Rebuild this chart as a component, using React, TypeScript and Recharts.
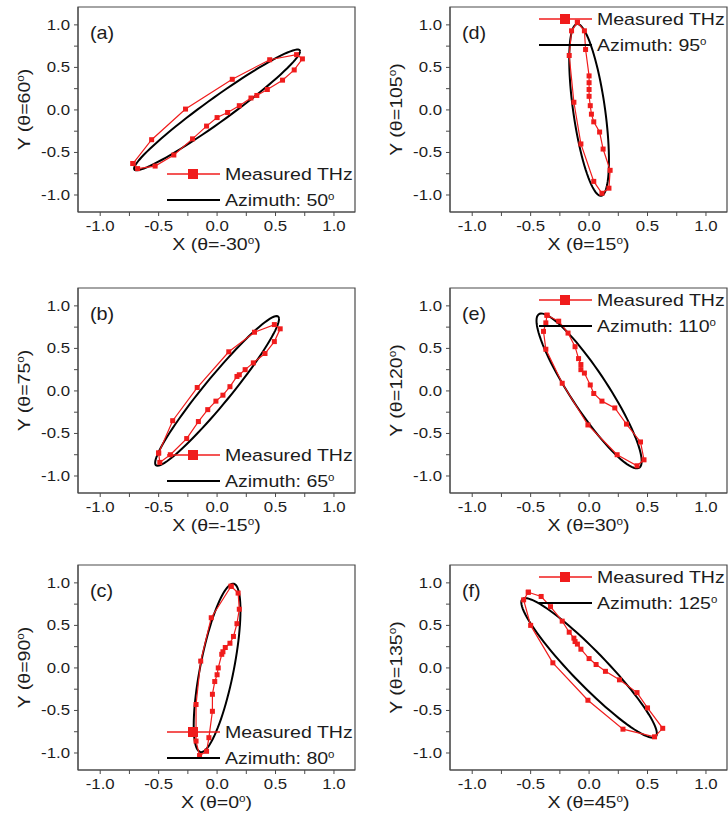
import React from "react";
import { ScatterChart, Scatter, XAxis, YAxis, ReferenceArea } from "recharts";

const measuredA = [
  [-0.72, -0.63], [-0.56, -0.35], [-0.27, 0.01], [0.13, 0.36], [0.45, 0.59], [0.68, 0.65],
  [0.73, 0.6], [0.66, 0.47], [0.56, 0.35], [0.43, 0.24], [0.34, 0.17], [0.29, 0.14],
  [0.19, 0.05], [0.09, -0.03], [0.0, -0.09], [-0.09, -0.19], [-0.21, -0.34], [-0.37, -0.53],
  [-0.53, -0.66], [-0.68, -0.69], [-0.72, -0.63],
];
const measuredB = [
  [-0.5, -0.73], [-0.38, -0.35], [-0.17, 0.04], [0.1, 0.46], [0.32, 0.69], [0.49, 0.78],
  [0.54, 0.73], [0.49, 0.58], [0.41, 0.44], [0.31, 0.33], [0.24, 0.25], [0.19, 0.19],
  [0.17, 0.17], [0.11, 0.05], [0.05, -0.05], [-0.01, -0.12], [-0.08, -0.22], [-0.16, -0.36],
  [-0.26, -0.56], [-0.4, -0.75], [-0.49, -0.84], [-0.5, -0.73],
];
const measuredC = [
  [0.12, 0.96], [0.18, 0.88], [0.19, 0.69], [0.17, 0.52], [0.14, 0.37], [0.11, 0.29],
  [0.07, 0.24], [0.05, 0.19], [0.04, 0.16], [0.01, 0.0], [0.0, -0.08], [-0.02, -0.16],
  [-0.04, -0.31], [-0.04, -0.51], [-0.07, -0.82], [-0.09, -0.98], [-0.15, -1.03],
  [-0.18, -0.86], [-0.18, -0.43], [-0.14, 0.08], [-0.05, 0.59], [0.12, 0.96],
];
const measuredD = [
  [-0.1, 1.03], [-0.04, 0.93], [-0.03, 0.71], [0.0, 0.4], [0.0, 0.32], [0.0, 0.24],
  [0.0, 0.16], [0.01, 0.05], [0.02, -0.05], [0.04, -0.14], [0.09, -0.26], [0.12, -0.46],
  [0.18, -0.71], [0.17, -0.92], [0.11, -0.98], [0.04, -0.84], [-0.07, -0.4], [-0.13, 0.09],
  [-0.17, 0.64], [-0.15, 0.93], [-0.1, 1.03],
];
const measuredE = [
  [-0.36, 0.89], [-0.26, 0.82], [-0.18, 0.68], [-0.12, 0.52], [-0.09, 0.38], [-0.07, 0.31],
  [-0.07, 0.25], [-0.04, 0.21], [0.01, 0.07], [0.04, -0.03], [0.11, -0.12], [0.22, -0.2],
  [0.32, -0.39], [0.44, -0.6], [0.47, -0.81], [0.41, -0.88], [0.24, -0.75], [-0.01, -0.4],
  [-0.23, 0.09], [-0.37, 0.49], [-0.39, 0.7], [-0.37, 0.8], [-0.36, 0.89],
];
const measuredF = [
  [-0.52, 0.89], [-0.41, 0.84], [-0.33, 0.72], [-0.23, 0.55], [-0.17, 0.42], [-0.13, 0.35],
  [-0.12, 0.31], [-0.1, 0.28], [-0.07, 0.22], [0.0, 0.11], [0.06, 0.04], [0.14, -0.04],
  [0.26, -0.14], [0.41, -0.29], [0.5, -0.47], [0.63, -0.71], [0.56, -0.81], [0.29, -0.72],
  [-0.01, -0.38], [-0.31, 0.06], [-0.5, 0.5], [-0.56, 0.8], [-0.52, 0.89],
];

// fitted polarization ellipse: x = Ax cos t, y = Ay cos(t - delta)
const ellipseAmpX = [0.71, 0.53, 0.2, 0.17, 0.45, 0.58];
const ellipseAmpY = [0.71, 0.88, 0.99, 1.01, 0.91, 0.82];
const ellipsePhase = [14, 16, 47, 126, 155, 160];

const panelTags = ["a", "b", "c", "d", "e", "f"];
const xAngles = [-30, -15, 0, 15, 30, 45];
const yAngles = [60, 75, 90, 105, 120, 135];
const azimuths = [50, 65, 80, 95, 110, 125];
const measured = [measuredA, measuredB, measuredC, measuredD, measuredE, measuredF];

const axisTicks = [-1, -0.75, -0.5, -0.25, 0, 0.25, 0.5, 0.75, 1];
const X_DOMAIN = [-1.19, 1.18];
const Y_DOMAIN = [-1.2, 1.21];

const RED = "#f01c1c";
const AXIS = "#4a4a4a";
const TEXT = "#1c1c1c";
const FONT = "'Liberation Sans', Arial, sans-serif";

const PLOT_W = 277;
const PLOT_H = 205;
const colLeft = [78, 450];
const rowTop = [7, 288, 565];
const M = { top: 5, right: 1, left: 20, bottom: 0 };
const YW = 50;
const XH = 45;

const isMajor = (v: number) => Math.abs(v * 2 - Math.round(v * 2)) < 1e-6;

const XTick = ({ x, y, payload }: any) => {
  if (!isMajor(payload.value)) return <g />;
  return (
    <text
      transform={`translate(${x},${y}) scale(1.2,1)`}
      dy={11}
      textAnchor="middle"
      fontSize={14}
      fontFamily={FONT}
      fill={TEXT}
    >
      {payload.value.toFixed(1)}
    </text>
  );
};

const YTick = ({ x, y, payload }: any) => {
  if (!isMajor(payload.value)) return <g />;
  return (
    <text
      transform={`translate(${x},${y}) scale(1.2,1)`}
      dy={5}
      textAnchor="end"
      fontSize={14}
      fontFamily={FONT}
      fill={TEXT}
    >
      {payload.value.toFixed(1)}
    </text>
  );
};

const Square = (props: any) => (
  <rect x={props.cx - 2.5} y={props.cy - 2.5} width={5} height={5} fill={RED} />
);
const NoDot = () => <g />;

function ellipsePoints(i: number) {
  const pts = [];
  const d = (ellipsePhase[i] * Math.PI) / 180;
  for (let t = 0; t <= 360; t += 4) {
    const r = (t * Math.PI) / 180;
    pts.push({ x: ellipseAmpX[i] * Math.cos(r), y: ellipseAmpY[i] * Math.cos(r - d) });
  }
  return pts;
}

function Panel({ i }: { i: number }) {
  const col = i < 3 ? 0 : 1;
  const row = i % 3;
  const plotLeft = colLeft[col];
  const plotTop = rowTop[row];
  const width = M.left + YW + PLOT_W + M.right;
  const height = M.top + PLOT_H + XH + M.bottom;
  const pts = measured[i].map(([x, y]) => ({ x, y }));
  return (
    <div
      style={{
        position: "absolute",
        left: plotLeft - M.left - YW,
        top: plotTop - M.top,
        width,
        height,
      }}
    >
      <ScatterChart width={width} height={height} margin={M}>
        <XAxis
          type="number"
          dataKey="x"
          domain={X_DOMAIN}
          allowDataOverflow
          ticks={axisTicks}
          interval={0}
          height={XH}
          stroke={AXIS}
          tickSize={4}
          tickMargin={4}
          tick={<XTick />}
        />
        <YAxis
          type="number"
          dataKey="y"
          domain={Y_DOMAIN}
          allowDataOverflow
          ticks={axisTicks}
          interval={0}
          width={YW}
          stroke={AXIS}
          tickSize={4}
          tickMargin={4}
          tick={<YTick />}
        />
        <ReferenceArea
          x1={X_DOMAIN[0]}
          x2={X_DOMAIN[1]}
          y1={Y_DOMAIN[0]}
          y2={Y_DOMAIN[1]}
          fill="none"
          fillOpacity={0}
          stroke={AXIS}
          strokeWidth={1.2}
        />
        <Scatter
          data={ellipsePoints(i)}
          line={{ stroke: "#000", strokeWidth: 2 }}
          lineType="joint"
          shape={NoDot}
          isAnimationActive={false}
        />
        <Scatter
          data={pts}
          line={{ stroke: RED, strokeWidth: 1.2 }}
          lineType="joint"
          shape={Square}
          isAnimationActive={false}
        />
      </ScatterChart>
    </div>
  );
}

const Deg = ({ size }: { size: number }) => (
  <>
    <tspan dy={-size * 0.38} fontSize={size * 0.6}>o</tspan>
    <tspan dy={size * 0.38}>)</tspan>
  </>
);

function Overlay() {
  return (
    <svg
      width={728}
      height={819}
      style={{ position: "absolute", left: 0, top: 0, pointerEvents: "none" }}
      fontFamily={FONT}
      fill={TEXT}
    >
      {panelTags.map((tag, i) => {
        const col = i < 3 ? 0 : 1;
        const pl = colLeft[col];
        const pt = rowTop[i % 3];
        const legY = col === 0 ? [pt + 167, pt + 193] : [pt + 12, pt + 38];
        return (
          <g key={tag}>
            <text transform={`translate(${pl + 12},${pt + 32}) scale(1.1,1)`} fontSize={18}>
              ({tag})
            </text>
            <text
              transform={`translate(${pl + PLOT_W / 2},${pt + PLOT_H + 38}) scale(1.15,1)`}
              fontSize={17}
              textAnchor="middle"
            >
              X (θ={xAngles[i]}
              <Deg size={17} />
            </text>
            <text
              transform={`translate(${pl - 48},${pt + PLOT_H / 2}) rotate(-90) scale(1.15,1)`}
              fontSize={17}
              textAnchor="middle"
            >
              Y (θ={yAngles[i]}
              <Deg size={17} />
            </text>
            <line x1={pl + 89} x2={pl + 142} y1={legY[0]} y2={legY[0]} stroke={RED} strokeWidth={1.5} />
            <rect x={pl + 110} y={legY[0] - 5} width={10} height={10} fill={RED} />
            <text transform={`translate(${pl + 147},${legY[0] + 6}) scale(1.15,1)`} fontSize={17}>
              Measured THz
            </text>
            <line x1={pl + 89} x2={pl + 142} y1={legY[1]} y2={legY[1]} stroke="#000" strokeWidth={2} />
            <text transform={`translate(${pl + 147},${legY[1] + 6}) scale(1.15,1)`} fontSize={17}>
              Azimuth: {azimuths[i]}
              <tspan dy={-6.5} fontSize={10}>o</tspan>
            </text>
          </g>
        );
      })}
    </svg>
  );
}

export default function App() {
  return (
    <div
      style={{
        position: "absolute",
        left: 0,
        top: 0,
        width: 728,
        height: 819,
        background: "#fff",
        overflow: "hidden",
      }}
    >
      {panelTags.map((tag, i) => (
        <Panel key={tag} i={i} />
      ))}
      <Overlay />
    </div>
  );
}
